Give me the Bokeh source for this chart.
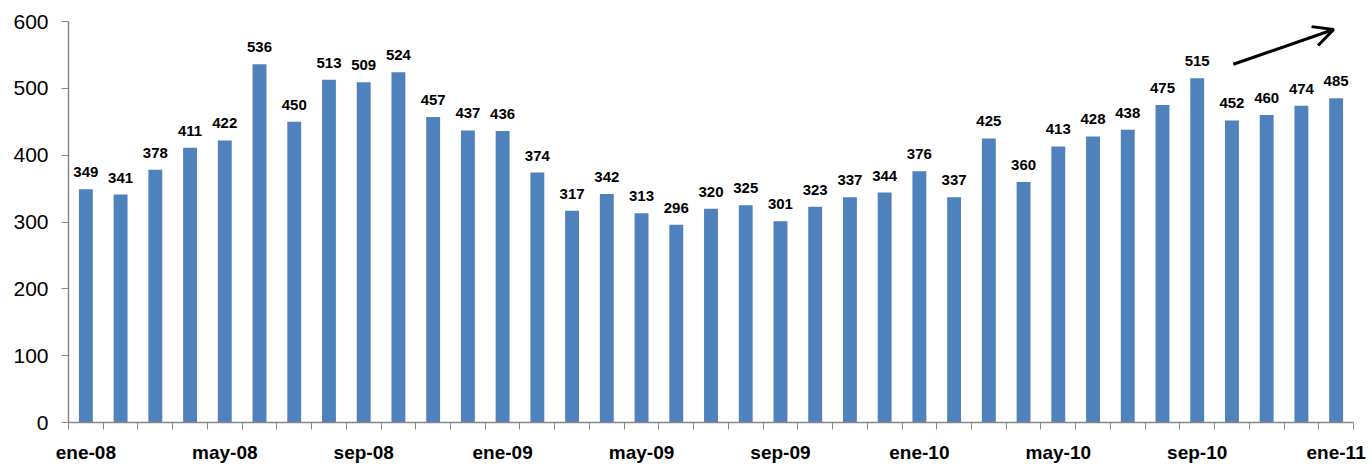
from bokeh.plotting import figure
from bokeh.models import ColumnDataSource, FixedTicker, Arrow, OpenHead, LabelSet
from bokeh.core.properties import value
from bokeh.embed import file_html
from bokeh.resources import INLINE

months = ["ene-08","feb-08","mar-08","abr-08","may-08","jun-08","jul-08","ago-08","sep-08","oct-08","nov-08","dic-08",
          "ene-09","feb-09","mar-09","abr-09","may-09","jun-09","jul-09","ago-09","sep-09","oct-09","nov-09","dic-09",
          "ene-10","feb-10","mar-10","abr-10","may-10","jun-10","jul-10","ago-10","sep-10","oct-10","nov-10","dic-10",
          "ene-11"]
values = [349, 341, 378, 411, 422, 536, 450, 513, 509, 524, 457, 437,
          436, 374, 317, 342, 313, 296, 320, 325, 301, 323, 337, 344,
          376, 337, 425, 360, 413, 428, 438, 475, 515, 452, 460, 474,
          485]
y_ticks = [0, 100, 200, 300, 400, 500, 600]

n = len(months)
xs = [i + 0.5 for i in range(n)]
src = ColumnDataSource(dict(x=xs, v=values, lab=[str(v) for v in values]))

shown = list(range(0, n, 4))

p = figure(width=1366, height=465, x_range=(0, n), y_range=(0, 600),
           output_backend="svg", toolbar_location=None,
           min_border_left=68, min_border_right=13, min_border_top=21, min_border_bottom=42)
p.outline_line_color = None
p.grid.visible = False

p.vbar(x="x", top="v", width=0.4, source=src, fill_color="#4F81BD", line_color=None)

labels = LabelSet(x="x", y="v", text="lab", source=src, text_align="center",
                  text_baseline="alphabetic", y_offset=12,
                  text_font=value("Liberation Sans"), text_font_style="bold",
                  text_font_size="15px", text_color="#000000")
p.add_layout(labels)

p.xaxis.ticker = FixedTicker(ticks=[xs[i] for i in shown], minor_ticks=list(range(n + 1)))
p.xaxis.major_label_overrides = {xs[i]: months[i] for i in shown}
p.xaxis.major_tick_line_color = None
p.xaxis.major_tick_in = 0
p.xaxis.major_tick_out = 0
p.xaxis.minor_tick_in = 0
p.xaxis.minor_tick_out = 7
p.xaxis.minor_tick_line_color = "#868686"
p.xaxis.axis_line_color = "#868686"
p.xaxis.axis_line_width = 1.5
p.xaxis.major_label_text_font = "Liberation Sans"
p.xaxis.major_label_text_font_style = "bold"
p.xaxis.major_label_text_font_size = "19px"
p.xaxis.major_label_text_color = "#000000"
p.xaxis.major_label_standoff = 12

p.yaxis.ticker = FixedTicker(ticks=y_ticks)
p.yaxis.minor_tick_line_color = None
p.yaxis.major_tick_in = 0
p.yaxis.major_tick_out = 7
p.yaxis.major_tick_line_color = "#868686"
p.yaxis.axis_line_color = "#868686"
p.yaxis.axis_line_width = 1.5
p.yaxis.major_label_text_font = "Liberation Sans"
p.yaxis.major_label_text_font_size = "21px"
p.yaxis.major_label_text_color = "#000000"
p.yaxis.major_label_standoff = 13

p.add_layout(Arrow(end=OpenHead(size=20, line_width=3, line_color="black"),
                   x_start=33.54, y_start=536, x_end=36.43, y_end=588,
                   line_width=3, line_color="black"))

open("out.html", "w").write(file_html(p, INLINE))
